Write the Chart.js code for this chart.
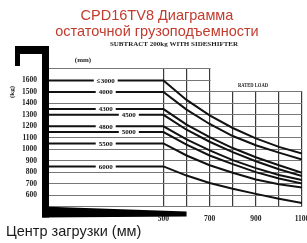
<!DOCTYPE html>
<html><head><meta charset="utf-8">
<script src="https://cdn.jsdelivr.net/npm/chart.js@4"></script>
<style>html,body{margin:0;padding:0;background:#fff}#c{display:block}</style>
</head><body>
<canvas id="c" width="307" height="243"></canvas>
<script>
// ---- data ----
const loadCenters = [0, 500, 600, 700, 800, 900, 1000, 1100];
const liftHeights = ['≤3000', '4000', '4300', '4500', '4800', '5000', '5500', '6000'];
const cap3000 = [1600, 1600, 1430, 1295, 1185, 1095, 1020, 962];
const cap4000 = [1500, 1500, 1345, 1220, 1115, 1035, 970, 910];
const cap4300 = [1350, 1350, 1215, 1105, 1010, 930, 860, 795];
const cap4500 = [1300, 1300, 1170, 1065, 975, 895, 825, 765];
const cap4800 = [1200, 1200, 1085, 990, 905, 835, 775, 730];
const cap5000 = [1150, 1150, 1040, 945, 870, 800, 745, 700];
const cap5500 = [1050, 1050, 945, 860, 795, 735, 695, 665];
const cap6000 = [850, 850, 770, 705, 655, 610, 568, 530];
const xTickLabels = [500, 700, 900, 1100];
const yTickLabels = [600, 700, 800, 900, 1000, 1100, 1200, 1300, 1400, 1500, 1600];
const titleLines = ['CPD16TV8 Диаграмма', 'остаточной грузоподъемности'];
const noteText = 'SUBTRACT 200kg WITH SIDESHIFTER';
const xAxisTitle = 'Центр загрузки (мм)';

const seriesValues = [cap3000, cap4000, cap4300, cap4500, cap4800, cap5000, cap5500, cap6000];
const labelAt = [250, 250, 250, 350, 250, 350, 250, 250];

const datasets = seriesValues.map((vals, i) => ({
  label: liftHeights[i],
  data: loadCenters.map((x, j) => ({ x: x, y: vals[j] })),
  borderColor: '#111',
  borderWidth: 2,
  pointRadius: 0,
  tension: 0,
  fill: false
}));

const deco = {
  id: 'deco',
  beforeDatasetsDraw(chart) {
    const { ctx, chartArea, scales: { x, y } } = chart;
    const x7 = x.getPixelForValue(700);
    const y15 = y.getPixelForValue(1500);
    ctx.save();
    ctx.fillStyle = '#fff';
    ctx.fillRect(x7 + 1, chartArea.top - 2, chartArea.right - x7 + 6, y15 - chartArea.top + 1);
    ctx.restore();
  },
  afterDatasetsDraw(chart) {
    const { ctx, chartArea, scales: { x, y } } = chart;
    ctx.save();
    ctx.font = 'bold 7px "Liberation Serif"';
    ctx.textAlign = 'center';
    ctx.textBaseline = 'middle';
    seriesValues.forEach((vals, i) => {
      const px = x.getPixelForValue(labelAt[i]);
      const py = y.getPixelForValue(vals[0]);
      const w = ctx.measureText(liftHeights[i]).width;
      ctx.fillStyle = '#fff';
      ctx.fillRect(px - w / 2 - 3, py - 2, w + 6, 4);
      ctx.fillStyle = '#111';
      ctx.fillText(liftHeights[i], px, py + 0.5);
    });
    ctx.fillStyle = '#000';
    const L = chartArea.left;
    const T = chartArea.top;
    const B = chartArea.bottom;
    ctx.fillRect(L - 6, T - 23, 7, B - T + 34);
    ctx.fillRect(L - 33, T - 23, 30, 8);
    ctx.fillRect(L - 33, T - 15, 5, 12);
    ctx.beginPath();
    ctx.moveTo(L - 6, B);
    ctx.lineTo(x.getPixelForValue(600), B + 5);
    ctx.lineTo(x.getPixelForValue(600), B + 10);
    ctx.lineTo(L - 6, B + 11);
    ctx.closePath();
    ctx.fill();
    ctx.fillStyle = '#222';
    ctx.font = 'bold 7px "Liberation Serif"';
    ctx.fillText(noteText, 174, 44, 132);
    ctx.fillText('(mm)', 83, 60);
    ctx.font = 'bold 6px "Liberation Serif"';
    ctx.fillText('RATED LOAD', 253, 85, 30);
    ctx.save();
    ctx.translate(12, 92);
    ctx.rotate(-Math.PI / 2);
    ctx.font = 'bold 7px "Liberation Serif"';
    ctx.fillText('(kg)', 0, 0);
    ctx.restore();
    ctx.fillStyle = '#1a1a1a';
    ctx.textAlign = 'left';
    ctx.font = '14.5px "Liberation Sans"';
    ctx.fillText(xAxisTitle, 6, 232);
    ctx.restore();
  }
};

new Chart(document.getElementById('c'), {
  type: 'line',
  data: { datasets: datasets },
  options: {
    responsive: false,
    animation: false,
    devicePixelRatio: 1,
    layout: { padding: { left: 12, right: 5, top: 0, bottom: 0 }, autoPadding: false },
    plugins: {
      legend: { display: false },
      tooltip: { enabled: false },
      title: {
        display: true,
        text: titleLines,
        color: '#c23b2e',
        font: { family: 'Liberation Sans', size: 14.5, weight: 'normal', lineHeight: 1.12 },
        padding: { top: 8, bottom: 28.5 }
      }
    },
    scales: {
      x: {
        type: 'linear', min: 0, max: 1100,
        afterFit: s => { s.height = 36.5; s.paddingLeft = 0; s.paddingRight = 0; },
        border: { display: false },
        grid: {
          drawTicks: false,
          color: c => (c.tick && c.tick.value >= 500) ? '#3a3a3a' : 'rgba(0,0,0,0)',
          lineWidth: 1.2
        },
        ticks: {
          stepSize: 100, autoSkip: false, maxRotation: 0, padding: 8,
          color: '#222',
          font: { family: 'Liberation Serif', size: 7.5, weight: 'bold' },
          callback: v => xTickLabels.includes(v) ? String(v) : ''
        }
      },
      y: {
        min: 500, max: 1700,
        afterFit: s => { s.width = 36; s.paddingTop = 0; s.paddingBottom = 0; },
        border: { display: false },
        grid: { drawTicks: false, color: '#777', lineWidth: 1 },
        ticks: {
          stepSize: 100, autoSkip: false, padding: 11,
          color: '#222',
          font: { family: 'Liberation Serif', size: 7.5, weight: 'bold' },
          callback: v => yTickLabels.includes(v) ? String(v) : ''
        }
      }
    }
  },
  plugins: [deco]
});
</script>
</body></html>
